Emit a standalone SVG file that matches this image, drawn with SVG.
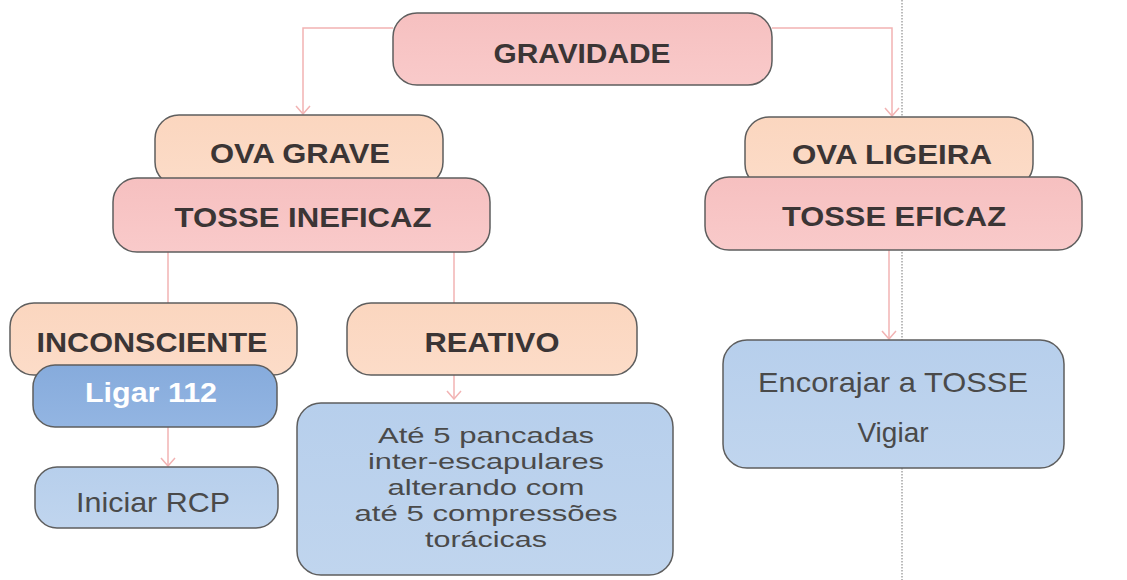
<svg xmlns="http://www.w3.org/2000/svg" width="1127" height="580" viewBox="0 0 1127 580">
<defs>
<marker id="arr" markerWidth="12" markerHeight="16" refX="11" refY="8" orient="auto" markerUnits="userSpaceOnUse" viewBox="0 0 12 16">
<path d="M3,1 L11,8 L3,15" fill="none" stroke="#f2b3b3" stroke-width="1.5"/>
</marker>
<linearGradient id="gPink" x1="0" y1="0" x2="0" y2="1"><stop offset="0" stop-color="#f6c0c0"/><stop offset="1" stop-color="#f9caca"/></linearGradient>
<linearGradient id="gPeach" x1="0" y1="0" x2="0" y2="1"><stop offset="0" stop-color="#fbd6bf"/><stop offset="1" stop-color="#fcdcc8"/></linearGradient>
<linearGradient id="gBlue" x1="0" y1="0" x2="0" y2="1"><stop offset="0" stop-color="#b7cfec"/><stop offset="1" stop-color="#c0d5ee"/></linearGradient>
<linearGradient id="gDBlue" x1="0" y1="0" x2="0" y2="1"><stop offset="0" stop-color="#86abdc"/><stop offset="1" stop-color="#93b5e2"/></linearGradient>
</defs>
<style>
.box{stroke:#5e5e5e;stroke-width:1.5}
.pink{fill:url(#gPink)}
.peach{fill:url(#gPeach)}
.blue{fill:url(#gBlue)}
.dblue{fill:url(#gDBlue)}
.h{font-family:"Liberation Sans",Arial,sans-serif;font-weight:bold;fill:#3b3535;text-anchor:middle}
.t{font-family:"Liberation Sans",Arial,sans-serif;fill:#4a4a4a;text-anchor:middle}
.w{font-family:"Liberation Sans",Arial,sans-serif;font-weight:bold;fill:#ffffff;text-anchor:middle}
.c{fill:none;stroke:#f2b3b3;stroke-width:1.5}
</style>
<line x1="902" y1="0" x2="902" y2="580" stroke="#777" stroke-width="1" stroke-dasharray="1.5 1.5"/>
<g id="connectors">
<path class="c" d="M393,28 H303 V114" marker-end="url(#arr)"/>
<path class="c" d="M772,28 H892 V116" marker-end="url(#arr)"/>
<path class="c" d="M168,252 V303"/>
<path class="c" d="M454,252 V303"/>
<path class="c" d="M168,427 V466" marker-end="url(#arr)"/>
<path class="c" d="M454,375 V399" marker-end="url(#arr)"/>
<path class="c" d="M889,250 V339" marker-end="url(#arr)"/>
</g>
<g id="gravidade">
<rect class="box pink" x="393" y="13" width="379" height="72" rx="24"/>
<text class="h" x="582" y="63" font-size="27" textLength="177" lengthAdjust="spacingAndGlyphs">GRAVIDADE</text>
</g>
<g id="ova-grave">
<rect class="box peach" x="155" y="115" width="288" height="71" rx="24"/>
<text class="h" x="300" y="163" font-size="28" textLength="180" lengthAdjust="spacingAndGlyphs">OVA GRAVE</text>
</g>
<g id="tosse-ineficaz">
<rect class="box pink" x="113" y="178" width="377" height="74" rx="24"/>
<text class="h" x="303" y="227" font-size="28" textLength="257" lengthAdjust="spacingAndGlyphs">TOSSE INEFICAZ</text>
</g>
<g id="ova-ligeira">
<rect class="box peach" x="745" y="117" width="288" height="71" rx="24"/>
<text class="h" x="892" y="164" font-size="28" textLength="200" lengthAdjust="spacingAndGlyphs">OVA LIGEIRA</text>
</g>
<g id="tosse-eficaz">
<rect class="box pink" x="705" y="177" width="377" height="73" rx="24"/>
<text class="h" x="894" y="226" font-size="28" textLength="224" lengthAdjust="spacingAndGlyphs">TOSSE EFICAZ</text>
</g>
<g id="inconsciente">
<rect class="box peach" x="10" y="303" width="287" height="72" rx="24"/>
<text class="h" x="152" y="352" font-size="28" textLength="231" lengthAdjust="spacingAndGlyphs">INCONSCIENTE</text>
</g>
<g id="ligar-112">
<rect class="box dblue" x="33" y="365" width="244" height="62" rx="22"/>
<text class="w" x="151" y="402" font-size="27" textLength="132" lengthAdjust="spacingAndGlyphs">Ligar 112</text>
</g>
<g id="iniciar-rcp">
<rect class="box blue" x="35" y="467" width="243" height="61" rx="22"/>
<text class="t" x="153" y="512" font-size="28" textLength="154" lengthAdjust="spacingAndGlyphs">Iniciar RCP</text>
</g>
<g id="reativo">
<rect class="box peach" x="347" y="303" width="290" height="72" rx="24"/>
<text class="h" x="492" y="352" font-size="28" textLength="135" lengthAdjust="spacingAndGlyphs">REATIVO</text>
</g>
<g id="pancadas">
<rect class="box blue" x="297" y="403" width="376" height="172" rx="24"/>
<text class="t" x="486" y="443" font-size="22.5" textLength="216" lengthAdjust="spacingAndGlyphs">Até 5 pancadas</text>
<text class="t" x="486" y="469" font-size="22.5" textLength="236" lengthAdjust="spacingAndGlyphs">inter-escapulares</text>
<text class="t" x="486" y="495" font-size="22.5" textLength="197" lengthAdjust="spacingAndGlyphs">alterando com</text>
<text class="t" x="486" y="521" font-size="22.5" textLength="263" lengthAdjust="spacingAndGlyphs">até 5 compressões</text>
<text class="t" x="486" y="547" font-size="22.5" textLength="122" lengthAdjust="spacingAndGlyphs">torácicas</text>
</g>
<g id="encorajar">
<rect class="box blue" x="723" y="340" width="341" height="128" rx="24"/>
<text class="t" x="893" y="392" font-size="28" textLength="270" lengthAdjust="spacingAndGlyphs">Encorajar a TOSSE</text>
<text class="t" x="893" y="442" font-size="28">Vigiar</text>
</g>
</svg>
